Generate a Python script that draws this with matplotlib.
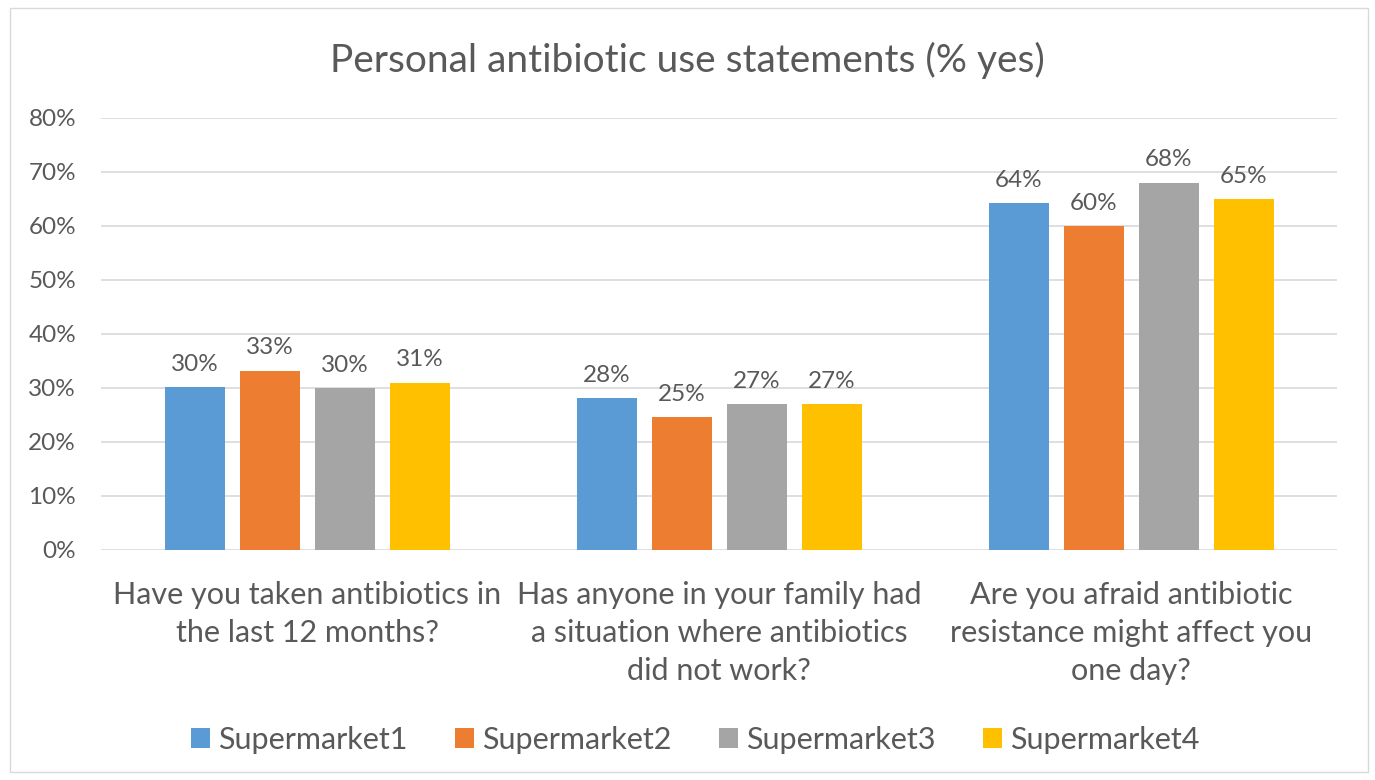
import matplotlib.pyplot as plt
import numpy as np
from matplotlib.patches import FancyBboxPatch

categories = [
    "Have you taken antibiotics in\nthe last 12 months?",
    "Has anyone in your family had\na situation where antibiotics\ndid not work?",
    "Are you afraid antibiotic\nresistance might affect you\none day?",
]
series_names = ["Supermarket1", "Supermarket2", "Supermarket3", "Supermarket4"]
sm1 = [30.1, 28.1, 64.2]
sm2 = [33.2, 24.6, 60.0]
sm3 = [30.0, 27.0, 68.0]
sm4 = [31.0, 27.0, 65.0]
series = [sm1, sm2, sm3, sm4]
colors = ["#5B9BD5", "#ED7D31", "#A5A5A5", "#FFC000"]
yticks = [0, 10, 20, 30, 40, 50, 60, 70, 80]

txt = "#595959"
plt.rcParams["font.family"] = ["Lato", "DejaVu Sans"]

fig = plt.figure(figsize=(13.75, 7.8), dpi=100)
frame = FancyBboxPatch((10 / 1375, 1 - 772 / 780), 1358 / 1375, 764 / 780,
                       boxstyle="square,pad=0", transform=fig.transFigure,
                       facecolor="white", edgecolor="#D9D9D9", linewidth=1, zorder=-5)
fig.patches.append(frame)
ax = fig.add_axes([101 / 1375, 1 - 550 / 780, 1236 / 1375, 432 / 780])
ax.set_facecolor("none")

x = np.arange(len(categories))
width = 60 / 412
step = 75 / 412
for i, (vals, c, name) in enumerate(zip(series, colors, series_names)):
    pos = x + (i - 1.5) * step
    bars = ax.bar(pos, vals, width, color=c, label=name, zorder=3)
    for b, v in zip(bars, vals):
        ax.text(b.get_x() + b.get_width() / 2, v + 2.3, f"{round(v):.0f}%",
                ha="center", va="bottom", fontsize=17.5, color=txt)

ax.set_xlim(-0.5, 2.5)
ax.set_ylim(0, 80)
ax.set_yticks(yticks)
ax.set_yticklabels([f"{t}%" for t in yticks], fontsize=17.5, color=txt)
ax.set_xticks(x)
ax.set_xticklabels(categories, fontsize=22, color=txt, linespacing=1.45)
ax.tick_params(axis="both", length=0)
ax.tick_params(axis="y", pad=18)
ax.tick_params(axis="x", pad=22)
ax.grid(axis="y", color="#D9D9D9", linewidth=1.2, zorder=0)
for s in ax.spines.values():
    s.set_visible(False)

fig.text(0.5, 1 - 60 / 780, "Personal antibiotic use statements (% yes)",
         ha="center", va="center", fontsize=28, color=txt)

fig.legend(loc="center", bbox_to_anchor=(695 / 1375, 1 - 740 / 780), ncol=4,
           frameon=False, fontsize=22, handlelength=0.62, handleheight=0.62,
           handletextpad=0.27, columnspacing=1.55, labelcolor=txt)

fig.savefig("out.png", dpi=100)
